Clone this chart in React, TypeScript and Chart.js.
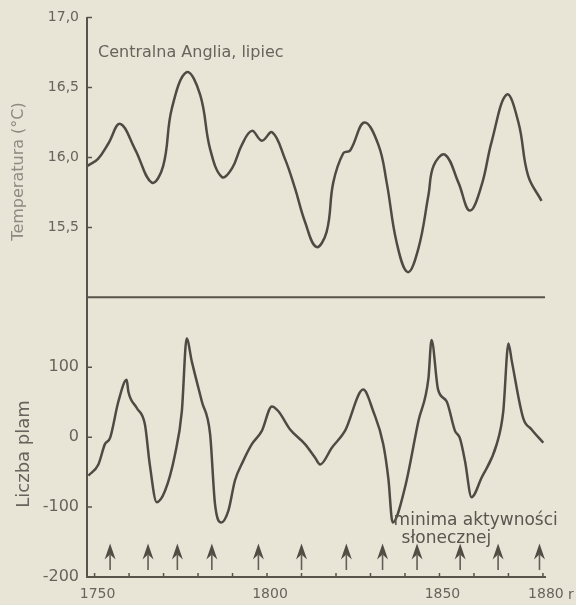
import { useEffect, useRef } from 'react';
import { Chart, registerables } from 'chart.js';

Chart.register(...registerables);

// ---- data ----
const tempYears = [1748.0, 1751.0, 1754.0, 1757.4, 1761.7, 1766.6, 1769.9, 1772.4, 1776.7, 1780.6, 1783.5, 1786.9, 1789.8, 1792.7, 1795.6, 1798.5, 1801.5, 1805.2, 1808.1, 1811.0, 1814.3, 1817.3, 1819.2, 1822.1, 1824.1, 1828.2, 1832.3, 1834.7, 1837.6, 1840.8, 1843.9, 1846.8, 1848.3, 1851.6, 1855.5, 1858.8, 1862.2, 1865.1, 1869.5, 1872.9, 1875.7, 1879.6];
const tempValues = [15.94, 15.99, 16.10, 16.24, 16.06, 15.82, 15.94, 16.35, 16.61, 16.45, 16.06, 15.86, 15.92, 16.09, 16.19, 16.12, 16.18, 15.99, 15.78, 15.54, 15.36, 15.47, 15.82, 16.03, 16.05, 16.25, 16.09, 15.82, 15.39, 15.18, 15.35, 15.73, 15.94, 16.02, 15.82, 15.62, 15.80, 16.11, 16.45, 16.25, 15.87, 15.69];

const spotYears = [1748.2, 1751.1, 1753.0, 1754.5, 1756.9, 1759.3, 1759.8, 1762.2, 1764.6, 1766.0, 1768.0, 1770.4, 1773.3, 1775.3, 1776.7, 1778.2, 1781.1, 1783.5, 1784.9, 1786.7, 1788.8, 1790.7, 1793.0, 1795.6, 1798.5, 1801.4, 1803.3, 1806.7, 1811.0, 1813.9, 1815.4, 1818.8, 1822.6, 1827.9, 1830.8, 1833.7, 1835.2, 1836.4, 1840.0, 1843.9, 1846.8, 1847.7, 1849.6, 1852.1, 1854.5, 1855.9, 1857.4, 1859.3, 1862.2, 1866.6, 1868.5, 1870.0, 1871.0, 1874.3, 1876.7, 1880.1];
const spotValues = [-55, -39, -10, -1, 51, 82, 65, 42, 18, -39, -93, -77, -25, 37, 141, 108, 51, 4, -95, -122, -105, -62, -35, -10, 9, 44, 37, 11, -10, -29, -39, -15, 9, 68, 37, -10, -60, -122, -72, 23, 84, 139, 68, 51, 9, -1, -34, -86, -58, -10, 37, 134, 108, 27, 11, -8];

const minimaYears = [1754.5, 1765.5, 1774.0, 1784.0, 1797.5, 1810.0, 1823.0, 1833.5, 1843.5, 1856.0, 1867.0, 1879.0];

const xTickYears = [1750, 1760, 1770, 1780, 1790, 1800, 1810, 1820, 1830, 1840, 1850, 1860, 1870, 1880];
const xLabelYears = [1750, 1800, 1850, 1880];
const tempTicks = [15.5, 16.0, 16.5, 17.0];
const spotTicks = [-200, -100, 0, 100];

const chartTitle = 'Centralna Anglia, lipiec';
const tempAxisTitle = 'Temperatura (°C)';
const spotAxisTitle = 'Liczba plam';
const noteLines = ['minima aktywności', 'słonecznej'];
const yearUnit = 'r';

// ---- styles ----
const FONT = '"DejaVu Sans", "Liberation Sans", sans-serif';
const BG = '#e9e5d6';
const INK = '#4f4a44';
const AXIS = '#5a534b';
const TEXT = '#68635c';
const LIGHT = '#8e8a82';

const decorPlugin = {
  id: 'decor',
  beforeDraw(chart: any) {
    const { ctx, width, height } = chart;
    ctx.save();
    ctx.fillStyle = BG;
    ctx.fillRect(0, 0, width, height);
    ctx.restore();
  },
  afterDraw(chart: any) {
    const { ctx, chartArea } = chart;
    const xs = chart.scales.x;
    const yT = chart.scales.yTemp;
    const yS = chart.scales.ySpots;
    ctx.save();

    // separator between the panels
    ctx.strokeStyle = AXIS;
    ctx.lineWidth = 2;
    ctx.beginPath();
    ctx.moveTo(chartArea.left, yT.bottom);
    ctx.lineTo(chartArea.right, yT.bottom);
    ctx.stroke();

    // inward tick marks
    ctx.lineWidth = 1.5;
    ctx.beginPath();
    tempTicks.forEach((v) => {
      const y = yT.getPixelForValue(v);
      ctx.moveTo(chartArea.left, y);
      ctx.lineTo(chartArea.left + 5, y);
    });
    spotTicks.forEach((v) => {
      const y = yS.getPixelForValue(v);
      ctx.moveTo(chartArea.left, y);
      ctx.lineTo(chartArea.left + 5, y);
    });
    xTickYears.forEach((v) => {
      const x = xs.getPixelForValue(v);
      ctx.moveTo(x, chartArea.bottom);
      ctx.lineTo(x, chartArea.bottom - 4);
    });
    ctx.stroke();

    // arrows marking solar minima
    const tip = yS.getPixelForValue(-152);
    const tail = yS.getPixelForValue(-190);
    ctx.fillStyle = '#524c45';
    ctx.strokeStyle = '#645e56';
    minimaYears.forEach((yr) => {
      const ax = xs.getPixelForValue(yr);
      ctx.beginPath();
      ctx.moveTo(ax, tip);
      ctx.lineTo(ax + 5.5, tip + 16);
      ctx.lineTo(ax, tip + 11);
      ctx.lineTo(ax - 5.5, tip + 16);
      ctx.closePath();
      ctx.fill();
      ctx.beginPath();
      ctx.lineWidth = 1.6;
      ctx.moveTo(ax, tip + 10);
      ctx.lineTo(ax, tail);
      ctx.stroke();
    });

    // panel title
    ctx.fillStyle = TEXT;
    ctx.font = `16px ${FONT}`;
    ctx.textAlign = 'left';
    ctx.textBaseline = 'alphabetic';
    ctx.fillText(chartTitle, chartArea.left + 11, 57);

    // annotation
    ctx.font = `17px ${FONT}`;
    ctx.fillStyle = '#5a554e';
    const nx = xs.getPixelForValue(1836.7);
    const ny = yS.getPixelForValue(-125);
    ctx.fillText(noteLines[0], nx, ny);
    ctx.fillText(noteLines[1], nx + 8, ny + 18);

    // unit after last year label
    ctx.font = `14px ${FONT}`;
    ctx.fillStyle = TEXT;
    ctx.textBaseline = 'middle';
    ctx.fillText(yearUnit, xs.getPixelForValue(1880) + 25, chartArea.bottom + 18);

    // axis titles
    ctx.textAlign = 'center';
    ctx.textBaseline = 'middle';
    ctx.save();
    ctx.translate(19, yT.getPixelForValue(15.9));
    ctx.rotate(-Math.PI / 2);
    ctx.font = `16px ${FONT}`;
    ctx.fillStyle = LIGHT;
    ctx.fillText(tempAxisTitle, 0, 0);
    ctx.restore();

    ctx.save();
    ctx.translate(24, yS.getPixelForValue(-24));
    ctx.rotate(-Math.PI / 2);
    ctx.font = `18px ${FONT}`;
    ctx.fillStyle = TEXT;
    ctx.fillText(spotAxisTitle, 0, 0);
    ctx.restore();

    ctx.restore();
  },
};

export default function App() {
  const canvasRef = useRef<HTMLCanvasElement | null>(null);

  useEffect(() => {
    const canvas = canvasRef.current;
    if (!canvas) return;

    const tempData = tempYears.map((x, i) => ({ x, y: tempValues[i] }));
    const spotData = spotYears.map((x, i) => ({ x, y: spotValues[i] }));

    const chart = new Chart(canvas, {
      type: 'line',
      data: {
        datasets: [
          {
            label: 'Temperatura',
            data: tempData,
            yAxisID: 'yTemp',
            borderColor: INK,
            borderWidth: 2.5,
            pointRadius: 0,
            tension: 0.4,
            fill: false,
          },
          {
            label: 'Liczba plam',
            data: spotData,
            yAxisID: 'ySpots',
            borderColor: INK,
            borderWidth: 2.5,
            pointRadius: 0,
            cubicInterpolationMode: 'monotone',
            fill: false,
          },
        ],
      },
      options: {
        animation: false,
        responsive: false,
        devicePixelRatio: 1,
        layout: { padding: { left: 0, right: 31, top: 16, bottom: 0 } },
        plugins: {
          legend: { display: false },
          tooltip: { enabled: false },
          title: { display: false },
        },
        scales: {
          x: {
            type: 'linear',
            min: 1747.8,
            max: 1880.6,
            grid: { display: false, drawTicks: false },
            border: { display: true, color: AXIS, width: 2 },
            afterBuildTicks: (scale: any) => {
              scale.ticks = xTickYears.map((v) => ({ value: v }));
            },
            afterFit: (scale: any) => {
              scale.height = 28;
            },
            ticks: {
              autoSkip: false,
              maxRotation: 0,
              padding: 9,
              labelOffset: 3,
              color: TEXT,
              font: { family: FONT, size: 14 },
              callback: (v: any) => (xLabelYears.includes(Number(v)) ? String(v) : ''),
            },
          },
          ySpots: {
            type: 'linear',
            position: 'left',
            stack: 'panels',
            stackWeight: 1,
            min: -200,
            max: 200,
            grid: { display: false, drawTicks: false },
            border: { display: true, color: AXIS, width: 2 },
            afterBuildTicks: (scale: any) => {
              scale.ticks = spotTicks.map((v) => ({ value: v }));
            },
            afterFit: (scale: any) => {
              scale.width = 87;
            },
            ticks: {
              padding: 8,
              color: TEXT,
              font: { family: FONT, size: 16 },
              callback: (v: any) => String(v),
            },
          },
          yTemp: {
            type: 'linear',
            position: 'left',
            stack: 'panels',
            stackWeight: 1,
            min: 15,
            max: 17,
            grid: { display: false, drawTicks: false },
            border: { display: true, color: AXIS, width: 2 },
            afterBuildTicks: (scale: any) => {
              scale.ticks = tempTicks.map((v) => ({ value: v }));
            },
            afterFit: (scale: any) => {
              scale.width = 87;
            },
            ticks: {
              padding: 8,
              color: TEXT,
              font: { family: FONT, size: 14 },
              callback: (v: any) => Number(v).toFixed(1).replace('.', ','),
            },
          },
        },
      },
      plugins: [decorPlugin],
    } as any);

    return () => {
      chart.destroy();
    };
  }, []);

  return (
    <div style={{ position: 'fixed', left: 0, top: 0, width: 576, height: 605, background: BG }}>
      <canvas ref={canvasRef} width={576} height={605} style={{ display: 'block', width: 576, height: 605 }} />
    </div>
  );
}
